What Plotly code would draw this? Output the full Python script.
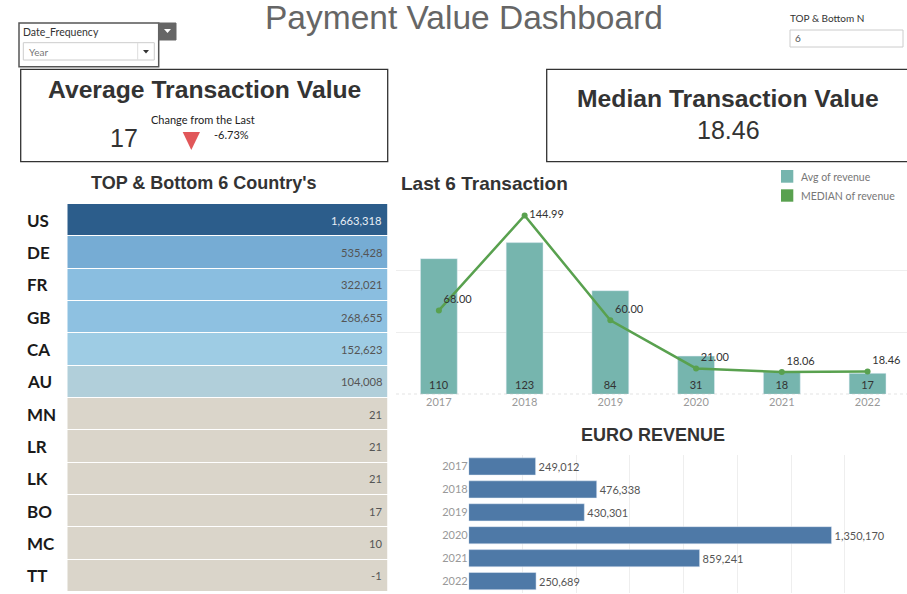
import plotly.graph_objects as go

# ---------------- data ----------------
countries = ["US", "DE", "FR", "GB", "CA", "AU", "MN", "LR", "LK", "BO", "MC", "TT"]
country_values = [1663318, 535428, 322021, 268655, 152623, 104008, 21, 21, 21, 17, 10, -1]

years = ["2017", "2018", "2019", "2020", "2021", "2022"]
avg_revenue = [110, 123, 84, 31, 18, 17]
median_revenue = [68.00, 144.99, 60.00, 21.00, 18.06, 18.46]
euro_revenue = [249012, 476338, 430301, 1350170, 859241, 250689]

avg_transaction_value = 17
change_from_last = -6.73
median_transaction_value = 18.46
top_bottom_n = 6
date_frequency = "Year"

# ---------------- style ----------------
W, H = 907, 594
cell_colors = ["#2c5d8b", "#76acd4", "#8abee0", "#8ec1e1", "#9ecce4", "#b1cfda",
               "#dad5ca", "#dad5ca", "#dad5ca", "#dad5ca", "#dad5ca", "#dad5ca"]
TEAL = "#76b5ae"
GREEN = "#59a14f"
BLUE = "#4e79a7"
ARIAL = "Liberation Sans, Arial, sans-serif"
TAB = "Lato, Open Sans, sans-serif"


def px(x):
    return x / W


def py(y):
    return 1 - y / H


fig = go.Figure()

# ---------------- country table (heatmap cells) ----------------
n = len(countries)
colorscale = [[i / (n - 1), c] for i, c in enumerate(cell_colors)]
fig.add_trace(go.Heatmap(
    z=[[i] for i in range(n)], x=["value"], y=countries,
    zmin=0, zmax=n - 1, colorscale=colorscale, showscale=False,
    ygap=1, hoverinfo="skip", xaxis="x", yaxis="y"))

# ---------------- last 6 transaction ----------------
fig.add_trace(go.Bar(
    x=years, y=avg_revenue, name="Avg of revenue", marker_color=TEAL,
    width=0.43, text=[str(v) for v in avg_revenue], textposition="inside",
    insidetextanchor="start", textfont=dict(family=TAB, size=11, color="#333"),
    constraintext="none", xaxis="x2", yaxis="y2", showlegend=False))
label_pos = ["top right", "middle right", "top right", "top right", "top right", "top right"]
fig.add_trace(go.Scatter(
    x=years, y=median_revenue, name="MEDIAN of revenue", mode="lines+markers+text",
    line=dict(color=GREEN, width=2.5), marker=dict(color=GREEN, size=6),
    text=[f"{v:.2f}" for v in median_revenue], textposition=label_pos,
    textfont=dict(family=TAB, size=11, color="#333"), cliponaxis=False,
    xaxis="x2", yaxis="y2", showlegend=False))

# ---------------- euro revenue ----------------
fig.add_trace(go.Bar(
    x=euro_revenue, y=years, orientation="h", marker_color=BLUE, width=0.75,
    text=[f"{v:,}" for v in euro_revenue], textposition="outside",
    textfont=dict(family=TAB, size=11, color="#555"), cliponaxis=False,
    xaxis="x3", yaxis="y3", showlegend=False))

shapes = []
annotations = []


def rect(x0, y0, x1, y1, line="#333", width=1.3, fill=None):
    shapes.append(dict(type="rect", xref="paper", yref="paper",
                       x0=px(x0), y0=py(y1), x1=px(x1), y1=py(y0),
                       line=dict(color=line, width=width) if width else dict(width=0),
                       fillcolor=fill if fill else "rgba(0,0,0,0)", layer="above"))


def tri(pts, color):
    path = "M " + " L ".join(f"{px(a)},{py(b)}" for a, b in pts) + " Z"
    shapes.append(dict(type="path", xref="paper", yref="paper", path=path,
                       fillcolor=color, line=dict(width=0), layer="above"))


def text(x, y, s, size, color="#333", family=TAB, anchor="center", bold=False):
    if bold:
        s = f"<b>{s}</b>"
    annotations.append(dict(x=px(x), y=py(y), xref="paper", yref="paper", text=s,
                            showarrow=False, xanchor=anchor, yanchor="middle",
                            font=dict(size=size, color=color, family=family)))


# header
text(464, 18, "Payment Value Dashboard", 33.5, "#666", ARIAL)

# date frequency control
rect(19, 23, 158.7, 66.7, line="#555", width=1.5)
rect(158.7, 23, 176, 40, line="#666", width=1, fill="#666")
tri([(164, 29), (171, 29), (167.5, 33)], "#fff")
rect(23.3, 42.7, 154.3, 60, line="#ccc", width=1)
shapes.append(dict(type="line", xref="paper", yref="paper", x0=px(137.7), x1=px(137.7),
                   y0=py(43), y1=py(60), line=dict(color="#ddd", width=1)))
tri([(143, 50), (149, 50), (146, 53.5)], "#333")
text(20.7, 31.7, "Date_Frequency", 10.5, "#333", anchor="left")
text(26.7, 51.5, date_frequency, 10, "#777", anchor="left")

# TOP & Bottom N control
text(788, 18, "TOP &amp; Bottom N", 10, "#333", anchor="left")
rect(790, 30, 903, 47, line="#ccc", width=1)
text(793, 38.5, str(top_bottom_n), 10, "#555", anchor="left")

# KPI boxes
rect(20.7, 69.3, 387.7, 161.7)
text(204, 90, "Average Transaction Value", 24.7, "#333", ARIAL, bold=True)
text(203, 119, "Change from the Last", 11, "#222")
text(123.5, 137.5, str(avg_transaction_value), 25, "#333", ARIAL)
tri([(182.7, 132), (200, 132), (191.3, 150)], "#e15759")
text(231, 134.5, f"{change_from_last:.2f}%", 11, "#222")

rect(546.7, 69.3, 912, 161.7)
text(728, 98, "Median Transaction Value", 24.7, "#333", ARIAL, bold=True)
text(728, 130, f"{median_transaction_value:.2f}", 25, "#333", ARIAL)

# section titles
text(204, 183, "TOP &amp; Bottom 6 Country's", 18, "#333", ARIAL, bold=True)
text(399, 184, "Last 6 Transaction", 19, "#333", ARIAL, anchor="left", bold=True)
text(652.5, 435, "EURO REVENUE", 18, "#333", ARIAL, bold=True)

# legend (manual)
rect(781, 170, 793.3, 182.7, width=0, fill=TEAL)
rect(781, 189.3, 793.3, 201.7, width=0, fill=GREEN)
text(798.7, 177, "Avg of revenue", 10.5, "#777", anchor="left")
text(798.7, 196, "MEDIAN of revenue", 10.5, "#777", anchor="left")

# country labels & values
for c, v in zip(countries, country_values):
    annotations.append(dict(x=px(25), y=c, xref="paper", yref="y", text=f"<b>{c}</b>",
                            showarrow=False, xanchor="left", yanchor="middle",
                            font=dict(size=17, color="#1a1a1a", family=TAB)))
    annotations.append(dict(x=px(384.3), y=c, xref="paper", yref="y", text=f"{v:,}",
                            showarrow=False, xanchor="right", yanchor="middle",
                            font=dict(size=11.2, color="#e8eef5" if c == countries[0] else "#555",
                                      family=TAB)))

# dotted baseline of last-6 chart
shapes.append(dict(type="line", xref="x2 domain", yref="y2", x0=0, x1=1, y0=0, y1=0,
                   line=dict(color="#bbb", width=1, dash="dot")))

fig.update_layout(
    width=W, height=H, margin=dict(l=0, r=0, t=0, b=0),
    paper_bgcolor="white", plot_bgcolor="white", showlegend=False,
    shapes=shapes, annotations=annotations, bargap=0.2,
    xaxis=dict(domain=[px(67.3), px(387.7)], showticklabels=False, showgrid=False,
               zeroline=False, fixedrange=True),
    yaxis=dict(domain=[py(592), py(204)], autorange="reversed", showticklabels=False,
               showgrid=False, zeroline=False, fixedrange=True),
    xaxis2=dict(domain=[px(396), 1], anchor="y2", type="category", range=[-0.5, 5.46],
                showgrid=False, zeroline=False, ticks="",
                tickfont=dict(family=TAB, size=11, color="#999")),
    yaxis2=dict(domain=[py(394.3), py(209.3)], anchor="x2", range=[0, 150],
                tickvals=[50, 100, 150], showticklabels=False, gridcolor="#eeeeee",
                zeroline=False),
    xaxis3=dict(domain=[px(468.7), px(898.7)], anchor="y3", range=[0, 1600000],
                dtick=200000, showticklabels=False, gridcolor="#eeeeee", zeroline=False),
    yaxis3=dict(domain=[py(592.6), py(455)], anchor="x3", type="category",
                autorange="reversed", ticks="", showgrid=False, zeroline=False,
                tickfont=dict(family=TAB, size=11, color="#999")),
)

fig.write_html("out.html", config={"displayModeBar": False},
               post_script="document.body.style.margin='0px';"
                           "document.body.style.overflow='hidden';")
